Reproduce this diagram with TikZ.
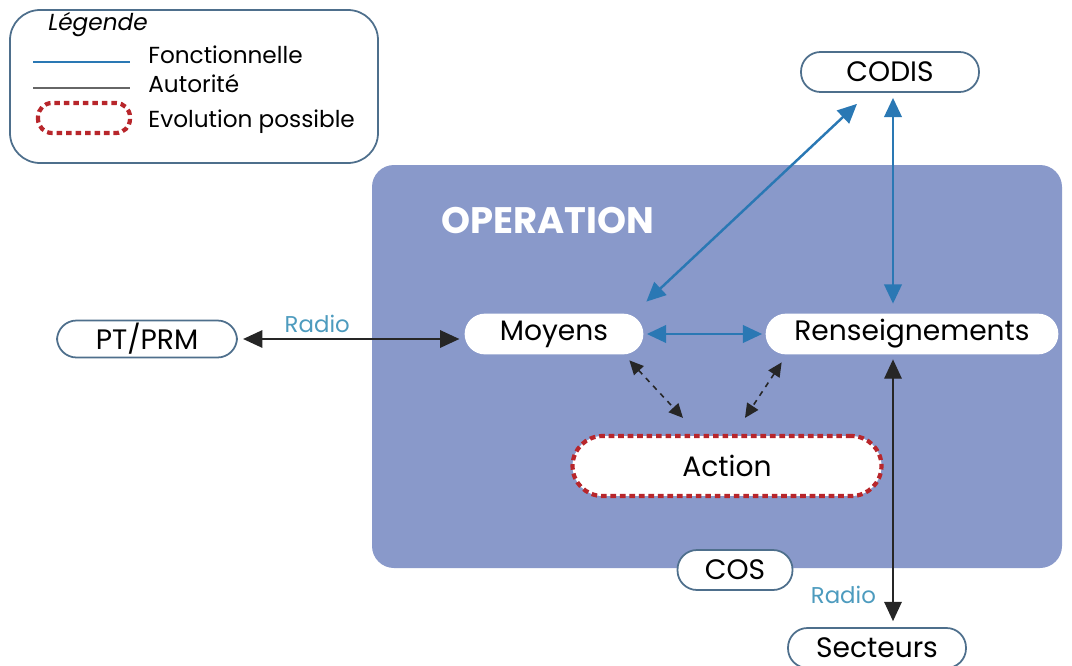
\documentclass[tikz,border=0pt]{standalone}
\usepackage{fontspec}
\setmainfont{Poppins}
\usetikzlibrary{arrows.meta}
\usetikzlibrary{calc}
\definecolor{fonctblue}{HTML}{2A78B4}
\definecolor{opfill}{HTML}{8999CA}
\definecolor{boxline}{HTML}{4E6F8C}
\definecolor{radioblue}{HTML}{4D9BBE}
\definecolor{evolred}{HTML}{B8262B}
\tikzset{
  pill/.style={rectangle, draw=boxline, line width=1pt, fill=white,
    rounded corners=0.39cm, minimum height=0.78cm, inner sep=0pt,
    font=\fontsize{16}{19}\selectfont},
  inpill/.style={pill, draw=white},
  evol/.style={draw=evolred, line width=2.4pt, dash pattern=on 3.2pt off 2.2pt},
  fonct/.style={draw=fonctblue, line width=1.4pt,
    {Triangle[length=11pt,width=10pt]}-{Triangle[length=11pt,width=10pt]}},
  autor/.style={draw=black!85, line width=0.8pt,
    {Triangle[length=11pt,width=10pt]}-{Triangle[length=11pt,width=10pt]}},
  possible/.style={draw=black!85, line width=0.9pt, dashed,
    {Triangle[length=8pt,width=7.5pt]}-{Triangle[length=8pt,width=7.5pt]}},
  radiolbl/.style={text=radioblue, font=\fontsize{13}{15}\selectfont},
  legtext/.style={anchor=west, inner sep=0pt, font=\fontsize{13.2}{16}\selectfont}
}
\begin{document}
\begin{tikzpicture}[x=0.02cm,y=-0.02cm]
\useasboundingbox (0,0) rectangle (1072,666);
% legende
\draw[boxline, line width=1pt, rounded corners=0.6cm] (10,10) rectangle (378,163);
\node[font=\fontsize{13.2}{16}\selectfont\itshape] (legtitle) at (98,25) {Légende};
\draw[fonctblue, line width=1.4pt] (33,62) coordinate (lf1) -- (130,62) coordinate (lf2);
\node[legtext] (legfonct) at (148,55) {Fonctionnelle};
\draw[black!60, line width=0.8pt] (33,88) coordinate (la1) -- (130,88) coordinate (la2);
\node[legtext] (legautor) at (148,84) {Autorité};
\draw[evol, rounded corners=0.28cm] (38,103) rectangle (130,133);
\node[legtext] (legevol) at (148,122) {Evolution possible};
% operation
\fill[opfill, rounded corners=0.44cm] (372,165) rectangle (1062,568);
\node[text=white, font=\fontsize{21}{25}\selectfont\bfseries] (operation) at (548,220) {OPERATION};
% nodes
\node[inpill, minimum width=3.54cm] (moyens) at (554,334) {Moyens};
\node[inpill, minimum width=5.82cm] (renseign) at (912,334) {Renseignements};
\node[pill, evol, minimum width=6.18cm, minimum height=1.2cm, rounded corners=0.6cm] (action) at (727,466) {Action};
\node[pill, minimum width=3.56cm, minimum height=0.8cm] (codis) at (890,72) {CODIS};
\node[pill, minimum width=3.6cm, minimum height=0.74cm] (ptprm) at (147,339) {PT/PRM};
\node[pill, minimum width=2.3cm, minimum height=0.8cm] (cos) at (735,570) {COS};
\node[pill, minimum width=3.56cm, minimum height=0.8cm] (secteurs) at (877,648) {Secteurs};
% liaisons
\draw[autor, shorten <=3pt, shorten >=3pt] (ptprm.east) -- (ptprm.east -| moyens.west)
  node[radiolbl, above, pos=0.35] {Radio};
\draw[fonct, shorten <=2pt, shorten >=2pt] (moyens.east) -- (renseign.west);
\draw[fonct] ($(moyens.north east)+(3,-12)$) -- ($(codis.south)+(-33,11)$);
\draw[fonct] ($(codis.south)+(3,5)$) coordinate (c1) -- ($(c1 |- renseign.north)+(0,-10)$);
\draw[autor] ($(renseign.south)+(-19,5)$) coordinate (r1) -- ($(r1 |- secteurs.north)+(0,-6)$)
  node[radiolbl, left=6pt, pos=0.9] {Radio};
\draw[possible] ($(moyens.south east)+(-14,6)$) -- ($(action.north)+(-44,-16)$);
\draw[possible] ($(renseign.south west)+(16,8)$) -- ($(action.north)+(18,-16)$);
\end{tikzpicture}
\end{document}
